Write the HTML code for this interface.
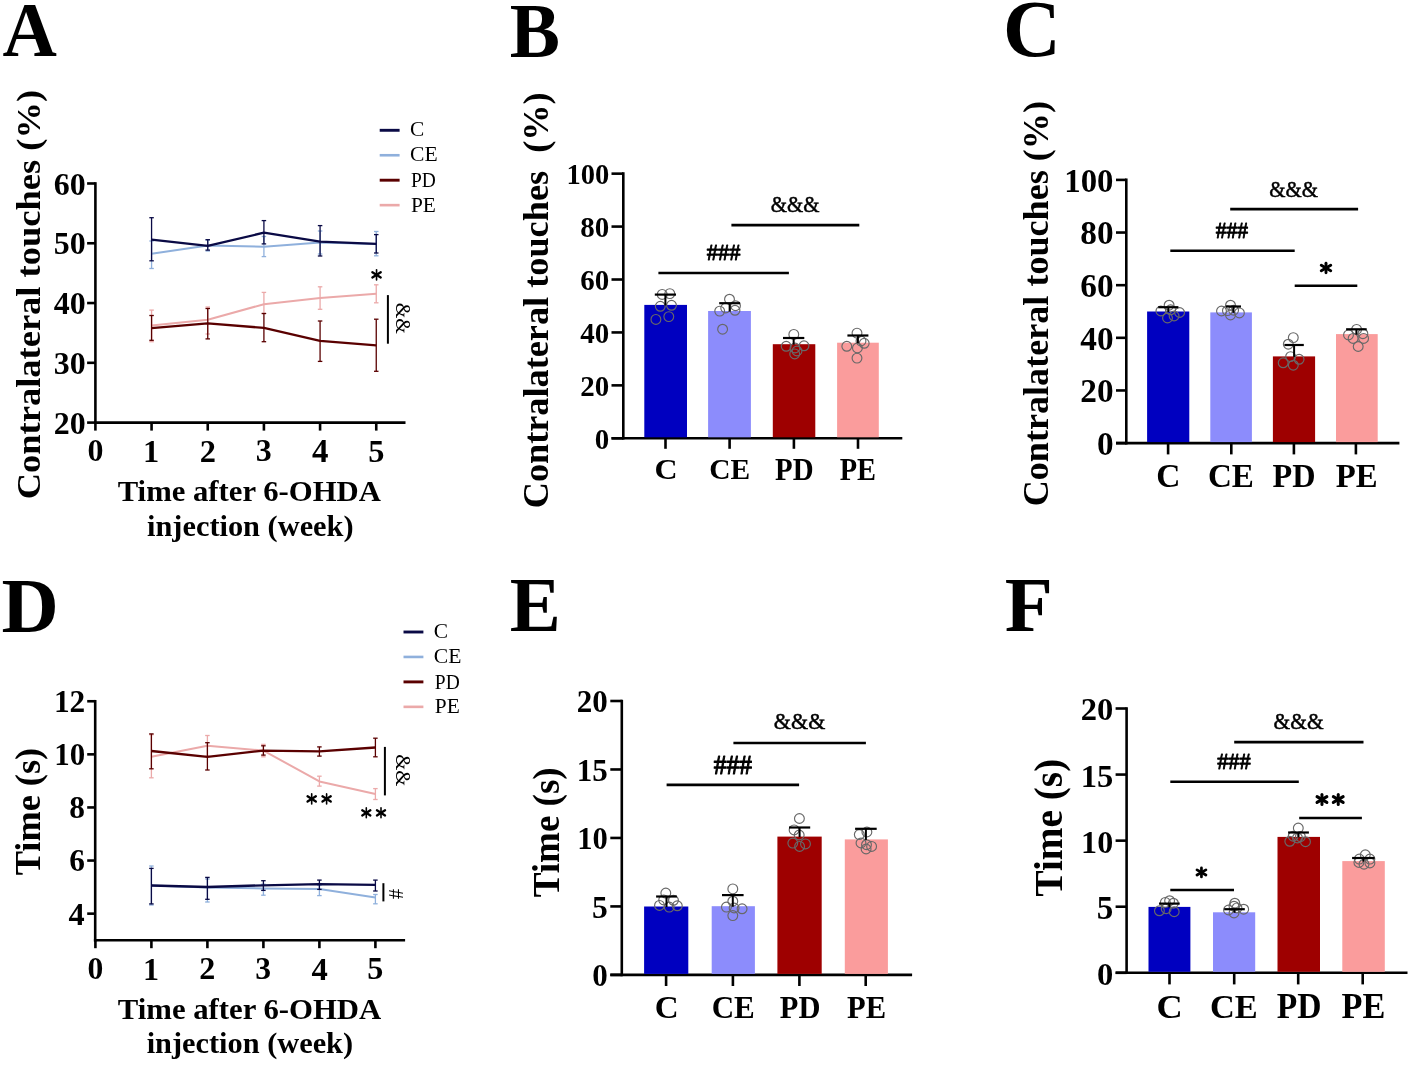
<!DOCTYPE html>
<html><head><meta charset="utf-8"><style>
html,body{margin:0;padding:0;background:#fff;width:1416px;height:1065px;overflow:hidden}
svg{display:block;will-change:transform}
text{font-family:"Liberation Serif",serif}
</style></head><body>
<svg width="1416" height="1065" viewBox="0 0 1416 1065">
<rect width="1416" height="1065" fill="#fff"/>
<line x1="95.40" y1="182.18" x2="95.40" y2="423.90" stroke="#000" stroke-width="2.6" stroke-linecap="butt"/>
<line x1="94.10" y1="422.60" x2="405.50" y2="422.60" stroke="#000" stroke-width="2.6" stroke-linecap="butt"/>
<line x1="87.10" y1="422.60" x2="95.40" y2="422.60" stroke="#000" stroke-width="2.6" stroke-linecap="butt"/>
<line x1="87.10" y1="362.82" x2="95.40" y2="362.82" stroke="#000" stroke-width="2.6" stroke-linecap="butt"/>
<line x1="87.10" y1="303.04" x2="95.40" y2="303.04" stroke="#000" stroke-width="2.6" stroke-linecap="butt"/>
<line x1="87.10" y1="243.26" x2="95.40" y2="243.26" stroke="#000" stroke-width="2.6" stroke-linecap="butt"/>
<line x1="87.10" y1="183.48" x2="95.40" y2="183.48" stroke="#000" stroke-width="2.6" stroke-linecap="butt"/>
<line x1="95.40" y1="422.60" x2="95.40" y2="430.60" stroke="#000" stroke-width="2.6" stroke-linecap="butt"/>
<line x1="151.57" y1="422.60" x2="151.57" y2="430.60" stroke="#000" stroke-width="2.6" stroke-linecap="butt"/>
<line x1="207.74" y1="422.60" x2="207.74" y2="430.60" stroke="#000" stroke-width="2.6" stroke-linecap="butt"/>
<line x1="263.91" y1="422.60" x2="263.91" y2="430.60" stroke="#000" stroke-width="2.6" stroke-linecap="butt"/>
<line x1="320.08" y1="422.60" x2="320.08" y2="430.60" stroke="#000" stroke-width="2.6" stroke-linecap="butt"/>
<line x1="376.25" y1="422.60" x2="376.25" y2="430.60" stroke="#000" stroke-width="2.6" stroke-linecap="butt"/>
<line x1="379.70" y1="130.30" x2="399.60" y2="130.30" stroke="#0a0a45" stroke-width="2.9" stroke-linecap="butt"/>
<line x1="379.70" y1="155.25" x2="399.60" y2="155.25" stroke="#8fb0dc" stroke-width="2.6" stroke-linecap="butt"/>
<line x1="379.70" y1="180.20" x2="399.60" y2="180.20" stroke="#5a0000" stroke-width="2.9" stroke-linecap="butt"/>
<line x1="379.70" y1="205.15" x2="399.60" y2="205.15" stroke="#eba9a9" stroke-width="2.6" stroke-linecap="butt"/>
<line x1="151.57" y1="241.00" x2="151.57" y2="268.50" stroke="#8fb0dc" stroke-width="1.3" stroke-linecap="butt"/>
<line x1="149.32" y1="241.00" x2="153.82" y2="241.00" stroke="#8fb0dc" stroke-width="1.3" stroke-linecap="butt"/>
<line x1="149.32" y1="268.50" x2="153.82" y2="268.50" stroke="#8fb0dc" stroke-width="1.3" stroke-linecap="butt"/>
<line x1="207.74" y1="240.00" x2="207.74" y2="251.00" stroke="#8fb0dc" stroke-width="1.3" stroke-linecap="butt"/>
<line x1="205.49" y1="240.00" x2="209.99" y2="240.00" stroke="#8fb0dc" stroke-width="1.3" stroke-linecap="butt"/>
<line x1="205.49" y1="251.00" x2="209.99" y2="251.00" stroke="#8fb0dc" stroke-width="1.3" stroke-linecap="butt"/>
<line x1="263.91" y1="236.50" x2="263.91" y2="256.60" stroke="#8fb0dc" stroke-width="1.3" stroke-linecap="butt"/>
<line x1="261.66" y1="236.50" x2="266.16" y2="236.50" stroke="#8fb0dc" stroke-width="1.3" stroke-linecap="butt"/>
<line x1="261.66" y1="256.60" x2="266.16" y2="256.60" stroke="#8fb0dc" stroke-width="1.3" stroke-linecap="butt"/>
<line x1="320.08" y1="231.00" x2="320.08" y2="254.00" stroke="#8fb0dc" stroke-width="1.3" stroke-linecap="butt"/>
<line x1="317.83" y1="231.00" x2="322.33" y2="231.00" stroke="#8fb0dc" stroke-width="1.3" stroke-linecap="butt"/>
<line x1="317.83" y1="254.00" x2="322.33" y2="254.00" stroke="#8fb0dc" stroke-width="1.3" stroke-linecap="butt"/>
<line x1="376.25" y1="231.50" x2="376.25" y2="255.80" stroke="#8fb0dc" stroke-width="1.3" stroke-linecap="butt"/>
<line x1="374.00" y1="231.50" x2="378.50" y2="231.50" stroke="#8fb0dc" stroke-width="1.3" stroke-linecap="butt"/>
<line x1="374.00" y1="255.80" x2="378.50" y2="255.80" stroke="#8fb0dc" stroke-width="1.3" stroke-linecap="butt"/>
<polyline points="151.57,253.80 207.74,245.40 263.91,246.80 320.08,242.50 376.25,243.90" fill="none" stroke="#8fb0dc" stroke-width="2.0" stroke-linejoin="round"/>
<line x1="151.57" y1="310.10" x2="151.57" y2="341.70" stroke="#eba9a9" stroke-width="1.3" stroke-linecap="butt"/>
<line x1="149.32" y1="310.10" x2="153.82" y2="310.10" stroke="#eba9a9" stroke-width="1.3" stroke-linecap="butt"/>
<line x1="149.32" y1="341.70" x2="153.82" y2="341.70" stroke="#eba9a9" stroke-width="1.3" stroke-linecap="butt"/>
<line x1="207.74" y1="307.00" x2="207.74" y2="334.00" stroke="#eba9a9" stroke-width="1.3" stroke-linecap="butt"/>
<line x1="205.49" y1="307.00" x2="209.99" y2="307.00" stroke="#eba9a9" stroke-width="1.3" stroke-linecap="butt"/>
<line x1="205.49" y1="334.00" x2="209.99" y2="334.00" stroke="#eba9a9" stroke-width="1.3" stroke-linecap="butt"/>
<line x1="263.91" y1="292.40" x2="263.91" y2="313.50" stroke="#eba9a9" stroke-width="1.3" stroke-linecap="butt"/>
<line x1="261.66" y1="292.40" x2="266.16" y2="292.40" stroke="#eba9a9" stroke-width="1.3" stroke-linecap="butt"/>
<line x1="261.66" y1="313.50" x2="266.16" y2="313.50" stroke="#eba9a9" stroke-width="1.3" stroke-linecap="butt"/>
<line x1="320.08" y1="286.80" x2="320.08" y2="309.30" stroke="#eba9a9" stroke-width="1.3" stroke-linecap="butt"/>
<line x1="317.83" y1="286.80" x2="322.33" y2="286.80" stroke="#eba9a9" stroke-width="1.3" stroke-linecap="butt"/>
<line x1="317.83" y1="309.30" x2="322.33" y2="309.30" stroke="#eba9a9" stroke-width="1.3" stroke-linecap="butt"/>
<line x1="376.25" y1="284.80" x2="376.25" y2="302.80" stroke="#eba9a9" stroke-width="1.3" stroke-linecap="butt"/>
<line x1="374.00" y1="284.80" x2="378.50" y2="284.80" stroke="#eba9a9" stroke-width="1.3" stroke-linecap="butt"/>
<line x1="374.00" y1="302.80" x2="378.50" y2="302.80" stroke="#eba9a9" stroke-width="1.3" stroke-linecap="butt"/>
<polyline points="151.57,325.60 207.74,319.70 263.91,304.20 320.08,298.00 376.25,293.80" fill="none" stroke="#eba9a9" stroke-width="2.0" stroke-linejoin="round"/>
<line x1="151.57" y1="217.70" x2="151.57" y2="260.80" stroke="#0a0a45" stroke-width="1.3" stroke-linecap="butt"/>
<line x1="149.32" y1="217.70" x2="153.82" y2="217.70" stroke="#0a0a45" stroke-width="1.3" stroke-linecap="butt"/>
<line x1="149.32" y1="260.80" x2="153.82" y2="260.80" stroke="#0a0a45" stroke-width="1.3" stroke-linecap="butt"/>
<line x1="207.74" y1="239.70" x2="207.74" y2="250.10" stroke="#0a0a45" stroke-width="1.3" stroke-linecap="butt"/>
<line x1="205.49" y1="239.70" x2="209.99" y2="239.70" stroke="#0a0a45" stroke-width="1.3" stroke-linecap="butt"/>
<line x1="205.49" y1="250.10" x2="209.99" y2="250.10" stroke="#0a0a45" stroke-width="1.3" stroke-linecap="butt"/>
<line x1="263.91" y1="220.60" x2="263.91" y2="243.90" stroke="#0a0a45" stroke-width="1.3" stroke-linecap="butt"/>
<line x1="261.66" y1="220.60" x2="266.16" y2="220.60" stroke="#0a0a45" stroke-width="1.3" stroke-linecap="butt"/>
<line x1="261.66" y1="243.90" x2="266.16" y2="243.90" stroke="#0a0a45" stroke-width="1.3" stroke-linecap="butt"/>
<line x1="320.08" y1="225.60" x2="320.08" y2="256.00" stroke="#0a0a45" stroke-width="1.3" stroke-linecap="butt"/>
<line x1="317.83" y1="225.60" x2="322.33" y2="225.60" stroke="#0a0a45" stroke-width="1.3" stroke-linecap="butt"/>
<line x1="317.83" y1="256.00" x2="322.33" y2="256.00" stroke="#0a0a45" stroke-width="1.3" stroke-linecap="butt"/>
<line x1="376.25" y1="234.60" x2="376.25" y2="253.00" stroke="#0a0a45" stroke-width="1.3" stroke-linecap="butt"/>
<line x1="374.00" y1="234.60" x2="378.50" y2="234.60" stroke="#0a0a45" stroke-width="1.3" stroke-linecap="butt"/>
<line x1="374.00" y1="253.00" x2="378.50" y2="253.00" stroke="#0a0a45" stroke-width="1.3" stroke-linecap="butt"/>
<polyline points="151.57,239.70 207.74,245.90 263.91,232.70 320.08,241.70 376.25,243.90" fill="none" stroke="#0a0a45" stroke-width="2.3" stroke-linejoin="round"/>
<line x1="151.57" y1="315.50" x2="151.57" y2="340.30" stroke="#5a0000" stroke-width="1.3" stroke-linecap="butt"/>
<line x1="149.32" y1="315.50" x2="153.82" y2="315.50" stroke="#5a0000" stroke-width="1.3" stroke-linecap="butt"/>
<line x1="149.32" y1="340.30" x2="153.82" y2="340.30" stroke="#5a0000" stroke-width="1.3" stroke-linecap="butt"/>
<line x1="207.74" y1="308.50" x2="207.74" y2="338.90" stroke="#5a0000" stroke-width="1.3" stroke-linecap="butt"/>
<line x1="205.49" y1="308.50" x2="209.99" y2="308.50" stroke="#5a0000" stroke-width="1.3" stroke-linecap="butt"/>
<line x1="205.49" y1="338.90" x2="209.99" y2="338.90" stroke="#5a0000" stroke-width="1.3" stroke-linecap="butt"/>
<line x1="263.91" y1="313.50" x2="263.91" y2="341.70" stroke="#5a0000" stroke-width="1.3" stroke-linecap="butt"/>
<line x1="261.66" y1="313.50" x2="266.16" y2="313.50" stroke="#5a0000" stroke-width="1.3" stroke-linecap="butt"/>
<line x1="261.66" y1="341.70" x2="266.16" y2="341.70" stroke="#5a0000" stroke-width="1.3" stroke-linecap="butt"/>
<line x1="320.08" y1="321.00" x2="320.08" y2="361.40" stroke="#5a0000" stroke-width="1.3" stroke-linecap="butt"/>
<line x1="317.83" y1="321.00" x2="322.33" y2="321.00" stroke="#5a0000" stroke-width="1.3" stroke-linecap="butt"/>
<line x1="317.83" y1="361.40" x2="322.33" y2="361.40" stroke="#5a0000" stroke-width="1.3" stroke-linecap="butt"/>
<line x1="376.25" y1="319.20" x2="376.25" y2="371.30" stroke="#5a0000" stroke-width="1.3" stroke-linecap="butt"/>
<line x1="374.00" y1="319.20" x2="378.50" y2="319.20" stroke="#5a0000" stroke-width="1.3" stroke-linecap="butt"/>
<line x1="374.00" y1="371.30" x2="378.50" y2="371.30" stroke="#5a0000" stroke-width="1.3" stroke-linecap="butt"/>
<polyline points="151.57,328.20 207.74,323.40 263.91,327.90 320.08,340.80 376.25,345.40" fill="none" stroke="#5a0000" stroke-width="2.3" stroke-linejoin="round"/>
<line x1="376.55" y1="269.71" x2="376.55" y2="279.89" stroke="#000" stroke-width="1.6275862068965534" stroke-linecap="round"/>
<line x1="372.38" y1="272.16" x2="380.72" y2="277.44" stroke="#000" stroke-width="2.3396551724137953" stroke-linecap="round"/>
<line x1="372.38" y1="277.44" x2="380.72" y2="272.16" stroke="#000" stroke-width="2.3396551724137953" stroke-linecap="round"/>
<line x1="387.90" y1="295.10" x2="387.90" y2="343.70" stroke="#000" stroke-width="2.0" stroke-linecap="butt"/>
<line x1="95.20" y1="699.95" x2="95.20" y2="941.50" stroke="#000" stroke-width="2.6" stroke-linecap="butt"/>
<line x1="93.90" y1="940.20" x2="405.10" y2="940.20" stroke="#000" stroke-width="2.6" stroke-linecap="butt"/>
<line x1="87.20" y1="913.65" x2="95.20" y2="913.65" stroke="#000" stroke-width="2.6" stroke-linecap="butt"/>
<line x1="87.20" y1="860.55" x2="95.20" y2="860.55" stroke="#000" stroke-width="2.6" stroke-linecap="butt"/>
<line x1="87.20" y1="807.45" x2="95.20" y2="807.45" stroke="#000" stroke-width="2.6" stroke-linecap="butt"/>
<line x1="87.20" y1="754.35" x2="95.20" y2="754.35" stroke="#000" stroke-width="2.6" stroke-linecap="butt"/>
<line x1="87.20" y1="701.25" x2="95.20" y2="701.25" stroke="#000" stroke-width="2.6" stroke-linecap="butt"/>
<line x1="95.40" y1="940.20" x2="95.40" y2="948.20" stroke="#000" stroke-width="2.6" stroke-linecap="butt"/>
<line x1="151.40" y1="940.20" x2="151.40" y2="948.20" stroke="#000" stroke-width="2.6" stroke-linecap="butt"/>
<line x1="207.40" y1="940.20" x2="207.40" y2="948.20" stroke="#000" stroke-width="2.6" stroke-linecap="butt"/>
<line x1="263.40" y1="940.20" x2="263.40" y2="948.20" stroke="#000" stroke-width="2.6" stroke-linecap="butt"/>
<line x1="319.40" y1="940.20" x2="319.40" y2="948.20" stroke="#000" stroke-width="2.6" stroke-linecap="butt"/>
<line x1="375.40" y1="940.20" x2="375.40" y2="948.20" stroke="#000" stroke-width="2.6" stroke-linecap="butt"/>
<line x1="403.50" y1="632.00" x2="423.40" y2="632.00" stroke="#0a0a45" stroke-width="2.9" stroke-linecap="butt"/>
<line x1="403.50" y1="656.95" x2="423.40" y2="656.95" stroke="#8fb0dc" stroke-width="2.6" stroke-linecap="butt"/>
<line x1="403.50" y1="681.90" x2="423.40" y2="681.90" stroke="#5a0000" stroke-width="2.9" stroke-linecap="butt"/>
<line x1="403.50" y1="706.85" x2="423.40" y2="706.85" stroke="#eba9a9" stroke-width="2.6" stroke-linecap="butt"/>
<line x1="151.40" y1="734.70" x2="151.40" y2="777.80" stroke="#eba9a9" stroke-width="1.3" stroke-linecap="butt"/>
<line x1="149.15" y1="734.70" x2="153.65" y2="734.70" stroke="#eba9a9" stroke-width="1.3" stroke-linecap="butt"/>
<line x1="149.15" y1="777.80" x2="153.65" y2="777.80" stroke="#eba9a9" stroke-width="1.3" stroke-linecap="butt"/>
<line x1="207.40" y1="735.50" x2="207.40" y2="756.10" stroke="#eba9a9" stroke-width="1.3" stroke-linecap="butt"/>
<line x1="205.15" y1="735.50" x2="209.65" y2="735.50" stroke="#eba9a9" stroke-width="1.3" stroke-linecap="butt"/>
<line x1="205.15" y1="756.10" x2="209.65" y2="756.10" stroke="#eba9a9" stroke-width="1.3" stroke-linecap="butt"/>
<line x1="263.40" y1="744.40" x2="263.40" y2="756.80" stroke="#eba9a9" stroke-width="1.3" stroke-linecap="butt"/>
<line x1="261.15" y1="744.40" x2="265.65" y2="744.40" stroke="#eba9a9" stroke-width="1.3" stroke-linecap="butt"/>
<line x1="261.15" y1="756.80" x2="265.65" y2="756.80" stroke="#eba9a9" stroke-width="1.3" stroke-linecap="butt"/>
<line x1="319.40" y1="776.20" x2="319.40" y2="786.10" stroke="#eba9a9" stroke-width="1.3" stroke-linecap="butt"/>
<line x1="317.15" y1="776.20" x2="321.65" y2="776.20" stroke="#eba9a9" stroke-width="1.3" stroke-linecap="butt"/>
<line x1="317.15" y1="786.10" x2="321.65" y2="786.10" stroke="#eba9a9" stroke-width="1.3" stroke-linecap="butt"/>
<line x1="375.40" y1="788.60" x2="375.40" y2="799.50" stroke="#eba9a9" stroke-width="1.3" stroke-linecap="butt"/>
<line x1="373.15" y1="788.60" x2="377.65" y2="788.60" stroke="#eba9a9" stroke-width="1.3" stroke-linecap="butt"/>
<line x1="373.15" y1="799.50" x2="377.65" y2="799.50" stroke="#eba9a9" stroke-width="1.3" stroke-linecap="butt"/>
<polyline points="151.40,756.70 207.40,745.80 263.40,750.60 319.40,781.40 375.40,794.00" fill="none" stroke="#eba9a9" stroke-width="2.0" stroke-linejoin="round"/>
<line x1="151.40" y1="866.00" x2="151.40" y2="905.00" stroke="#8fb0dc" stroke-width="1.3" stroke-linecap="butt"/>
<line x1="149.15" y1="866.00" x2="153.65" y2="866.00" stroke="#8fb0dc" stroke-width="1.3" stroke-linecap="butt"/>
<line x1="149.15" y1="905.00" x2="153.65" y2="905.00" stroke="#8fb0dc" stroke-width="1.3" stroke-linecap="butt"/>
<line x1="207.40" y1="879.00" x2="207.40" y2="902.00" stroke="#8fb0dc" stroke-width="1.3" stroke-linecap="butt"/>
<line x1="205.15" y1="879.00" x2="209.65" y2="879.00" stroke="#8fb0dc" stroke-width="1.3" stroke-linecap="butt"/>
<line x1="205.15" y1="902.00" x2="209.65" y2="902.00" stroke="#8fb0dc" stroke-width="1.3" stroke-linecap="butt"/>
<line x1="263.40" y1="884.20" x2="263.40" y2="895.20" stroke="#8fb0dc" stroke-width="1.3" stroke-linecap="butt"/>
<line x1="261.15" y1="884.20" x2="265.65" y2="884.20" stroke="#8fb0dc" stroke-width="1.3" stroke-linecap="butt"/>
<line x1="261.15" y1="895.20" x2="265.65" y2="895.20" stroke="#8fb0dc" stroke-width="1.3" stroke-linecap="butt"/>
<line x1="319.40" y1="885.30" x2="319.40" y2="895.60" stroke="#8fb0dc" stroke-width="1.3" stroke-linecap="butt"/>
<line x1="317.15" y1="885.30" x2="321.65" y2="885.30" stroke="#8fb0dc" stroke-width="1.3" stroke-linecap="butt"/>
<line x1="317.15" y1="895.60" x2="321.65" y2="895.60" stroke="#8fb0dc" stroke-width="1.3" stroke-linecap="butt"/>
<line x1="375.40" y1="894.50" x2="375.40" y2="903.80" stroke="#8fb0dc" stroke-width="1.3" stroke-linecap="butt"/>
<line x1="373.15" y1="894.50" x2="377.65" y2="894.50" stroke="#8fb0dc" stroke-width="1.3" stroke-linecap="butt"/>
<line x1="373.15" y1="903.80" x2="377.65" y2="903.80" stroke="#8fb0dc" stroke-width="1.3" stroke-linecap="butt"/>
<polyline points="151.40,885.50 207.40,887.50 263.40,888.40 319.40,889.00 375.40,897.60" fill="none" stroke="#8fb0dc" stroke-width="2.0" stroke-linejoin="round"/>
<line x1="151.40" y1="733.90" x2="151.40" y2="768.80" stroke="#5a0000" stroke-width="1.3" stroke-linecap="butt"/>
<line x1="149.15" y1="733.90" x2="153.65" y2="733.90" stroke="#5a0000" stroke-width="1.3" stroke-linecap="butt"/>
<line x1="149.15" y1="768.80" x2="153.65" y2="768.80" stroke="#5a0000" stroke-width="1.3" stroke-linecap="butt"/>
<line x1="207.40" y1="742.70" x2="207.40" y2="770.00" stroke="#5a0000" stroke-width="1.3" stroke-linecap="butt"/>
<line x1="205.15" y1="742.70" x2="209.65" y2="742.70" stroke="#5a0000" stroke-width="1.3" stroke-linecap="butt"/>
<line x1="205.15" y1="770.00" x2="209.65" y2="770.00" stroke="#5a0000" stroke-width="1.3" stroke-linecap="butt"/>
<line x1="263.40" y1="745.80" x2="263.40" y2="755.10" stroke="#5a0000" stroke-width="1.3" stroke-linecap="butt"/>
<line x1="261.15" y1="745.80" x2="265.65" y2="745.80" stroke="#5a0000" stroke-width="1.3" stroke-linecap="butt"/>
<line x1="261.15" y1="755.10" x2="265.65" y2="755.10" stroke="#5a0000" stroke-width="1.3" stroke-linecap="butt"/>
<line x1="319.40" y1="746.90" x2="319.40" y2="756.10" stroke="#5a0000" stroke-width="1.3" stroke-linecap="butt"/>
<line x1="317.15" y1="746.90" x2="321.65" y2="746.90" stroke="#5a0000" stroke-width="1.3" stroke-linecap="butt"/>
<line x1="317.15" y1="756.10" x2="321.65" y2="756.10" stroke="#5a0000" stroke-width="1.3" stroke-linecap="butt"/>
<line x1="375.40" y1="738.20" x2="375.40" y2="756.80" stroke="#5a0000" stroke-width="1.3" stroke-linecap="butt"/>
<line x1="373.15" y1="738.20" x2="377.65" y2="738.20" stroke="#5a0000" stroke-width="1.3" stroke-linecap="butt"/>
<line x1="373.15" y1="756.80" x2="377.65" y2="756.80" stroke="#5a0000" stroke-width="1.3" stroke-linecap="butt"/>
<polyline points="151.40,751.00 207.40,756.80 263.40,750.60 319.40,751.40 375.40,747.50" fill="none" stroke="#5a0000" stroke-width="2.3" stroke-linejoin="round"/>
<line x1="151.40" y1="868.40" x2="151.40" y2="903.90" stroke="#0a0a45" stroke-width="1.3" stroke-linecap="butt"/>
<line x1="149.15" y1="868.40" x2="153.65" y2="868.40" stroke="#0a0a45" stroke-width="1.3" stroke-linecap="butt"/>
<line x1="149.15" y1="903.90" x2="153.65" y2="903.90" stroke="#0a0a45" stroke-width="1.3" stroke-linecap="butt"/>
<line x1="207.40" y1="877.40" x2="207.40" y2="899.30" stroke="#0a0a45" stroke-width="1.3" stroke-linecap="butt"/>
<line x1="205.15" y1="877.40" x2="209.65" y2="877.40" stroke="#0a0a45" stroke-width="1.3" stroke-linecap="butt"/>
<line x1="205.15" y1="899.30" x2="209.65" y2="899.30" stroke="#0a0a45" stroke-width="1.3" stroke-linecap="butt"/>
<line x1="263.40" y1="880.70" x2="263.40" y2="890.40" stroke="#0a0a45" stroke-width="1.3" stroke-linecap="butt"/>
<line x1="261.15" y1="880.70" x2="265.65" y2="880.70" stroke="#0a0a45" stroke-width="1.3" stroke-linecap="butt"/>
<line x1="261.15" y1="890.40" x2="265.65" y2="890.40" stroke="#0a0a45" stroke-width="1.3" stroke-linecap="butt"/>
<line x1="319.40" y1="880.10" x2="319.40" y2="889.40" stroke="#0a0a45" stroke-width="1.3" stroke-linecap="butt"/>
<line x1="317.15" y1="880.10" x2="321.65" y2="880.10" stroke="#0a0a45" stroke-width="1.3" stroke-linecap="butt"/>
<line x1="317.15" y1="889.40" x2="321.65" y2="889.40" stroke="#0a0a45" stroke-width="1.3" stroke-linecap="butt"/>
<line x1="375.40" y1="880.10" x2="375.40" y2="891.00" stroke="#0a0a45" stroke-width="1.3" stroke-linecap="butt"/>
<line x1="373.15" y1="880.10" x2="377.65" y2="880.10" stroke="#0a0a45" stroke-width="1.3" stroke-linecap="butt"/>
<line x1="373.15" y1="891.00" x2="377.65" y2="891.00" stroke="#0a0a45" stroke-width="1.3" stroke-linecap="butt"/>
<polyline points="151.40,885.50 207.40,887.00 263.40,885.30 319.40,884.20 375.40,884.80" fill="none" stroke="#0a0a45" stroke-width="2.3" stroke-linejoin="round"/>
<line x1="311.69" y1="793.91" x2="311.69" y2="803.99" stroke="#000" stroke-width="1.6137931034482667" stroke-linecap="round"/>
<line x1="307.56" y1="796.33" x2="315.83" y2="801.57" stroke="#000" stroke-width="2.319827586206883" stroke-linecap="round"/>
<line x1="307.56" y1="801.57" x2="315.83" y2="796.33" stroke="#000" stroke-width="2.319827586206883" stroke-linecap="round"/>
<line x1="326.61" y1="793.91" x2="326.61" y2="803.99" stroke="#000" stroke-width="1.6137931034482667" stroke-linecap="round"/>
<line x1="322.47" y1="796.33" x2="330.74" y2="801.57" stroke="#000" stroke-width="2.319827586206883" stroke-linecap="round"/>
<line x1="322.47" y1="801.57" x2="330.74" y2="796.33" stroke="#000" stroke-width="2.319827586206883" stroke-linecap="round"/>
<line x1="366.30" y1="807.89" x2="366.30" y2="817.81" stroke="#000" stroke-width="1.5862068965517242" stroke-linecap="round"/>
<line x1="362.24" y1="810.27" x2="370.37" y2="815.43" stroke="#000" stroke-width="2.280172413793103" stroke-linecap="round"/>
<line x1="362.24" y1="815.43" x2="370.37" y2="810.27" stroke="#000" stroke-width="2.280172413793103" stroke-linecap="round"/>
<line x1="381.00" y1="807.89" x2="381.00" y2="817.81" stroke="#000" stroke-width="1.5862068965517242" stroke-linecap="round"/>
<line x1="376.93" y1="810.27" x2="385.06" y2="815.43" stroke="#000" stroke-width="2.280172413793103" stroke-linecap="round"/>
<line x1="376.93" y1="815.43" x2="385.06" y2="810.27" stroke="#000" stroke-width="2.280172413793103" stroke-linecap="round"/>
<line x1="384.90" y1="746.90" x2="384.90" y2="795.40" stroke="#000" stroke-width="2.0" stroke-linecap="butt"/>
<line x1="383.40" y1="883.20" x2="383.40" y2="901.40" stroke="#000" stroke-width="2.0" stroke-linecap="butt"/>
<line x1="623.30" y1="172.35" x2="623.30" y2="439.60" stroke="#000" stroke-width="2.6" stroke-linecap="butt"/>
<line x1="611.50" y1="438.30" x2="902.30" y2="438.30" stroke="#000" stroke-width="2.6" stroke-linecap="butt"/>
<line x1="611.50" y1="438.30" x2="623.30" y2="438.30" stroke="#000" stroke-width="2.6" stroke-linecap="butt"/>
<line x1="611.50" y1="385.37" x2="623.30" y2="385.37" stroke="#000" stroke-width="2.6" stroke-linecap="butt"/>
<line x1="611.50" y1="332.44" x2="623.30" y2="332.44" stroke="#000" stroke-width="2.6" stroke-linecap="butt"/>
<line x1="611.50" y1="279.51" x2="623.30" y2="279.51" stroke="#000" stroke-width="2.6" stroke-linecap="butt"/>
<line x1="611.50" y1="226.58" x2="623.30" y2="226.58" stroke="#000" stroke-width="2.6" stroke-linecap="butt"/>
<line x1="611.50" y1="173.65" x2="623.30" y2="173.65" stroke="#000" stroke-width="2.6" stroke-linecap="butt"/>
<line x1="665.50" y1="438.30" x2="665.50" y2="448.80" stroke="#000" stroke-width="2.6" stroke-linecap="butt"/>
<rect x="644.30" y="304.90" width="42.70" height="132.40" fill="#0000c0"/>
<line x1="729.60" y1="438.30" x2="729.60" y2="448.80" stroke="#000" stroke-width="2.6" stroke-linecap="butt"/>
<rect x="708.10" y="311.00" width="42.80" height="126.30" fill="#8c8cfc"/>
<line x1="793.90" y1="438.30" x2="793.90" y2="448.80" stroke="#000" stroke-width="2.6" stroke-linecap="butt"/>
<rect x="772.80" y="344.20" width="42.50" height="93.10" fill="#9e0000"/>
<line x1="858.00" y1="438.30" x2="858.00" y2="448.80" stroke="#000" stroke-width="2.6" stroke-linecap="butt"/>
<rect x="837.10" y="342.70" width="41.70" height="94.60" fill="#fa9c9c"/>
<circle cx="662.20" cy="294.40" r="4.9" fill="none" stroke="#686868" stroke-width="1.15"/>
<circle cx="669.80" cy="293.60" r="4.9" fill="none" stroke="#686868" stroke-width="1.15"/>
<circle cx="660.30" cy="306.30" r="4.9" fill="none" stroke="#686868" stroke-width="1.15"/>
<circle cx="671.50" cy="305.30" r="4.9" fill="none" stroke="#686868" stroke-width="1.15"/>
<circle cx="655.90" cy="319.40" r="4.9" fill="none" stroke="#686868" stroke-width="1.15"/>
<circle cx="668.80" cy="316.60" r="4.9" fill="none" stroke="#686868" stroke-width="1.15"/>
<line x1="665.40" y1="294.60" x2="665.40" y2="305.40" stroke="#000" stroke-width="2.0" stroke-linecap="butt"/>
<line x1="654.80" y1="294.60" x2="676.00" y2="294.60" stroke="#000" stroke-width="2.2" stroke-linecap="butt"/>
<circle cx="729.50" cy="299.20" r="4.9" fill="none" stroke="#686868" stroke-width="1.15"/>
<circle cx="719.70" cy="311.10" r="4.9" fill="none" stroke="#686868" stroke-width="1.15"/>
<circle cx="735.00" cy="310.30" r="4.9" fill="none" stroke="#686868" stroke-width="1.15"/>
<circle cx="722.60" cy="329.20" r="4.9" fill="none" stroke="#686868" stroke-width="1.15"/>
<circle cx="725.70" cy="308.00" r="4.9" fill="none" stroke="#686868" stroke-width="1.15"/>
<circle cx="735.50" cy="305.70" r="4.9" fill="none" stroke="#686868" stroke-width="1.15"/>
<line x1="729.65" y1="303.20" x2="729.65" y2="311.50" stroke="#000" stroke-width="2.0" stroke-linecap="butt"/>
<line x1="719.20" y1="303.20" x2="740.10" y2="303.20" stroke="#000" stroke-width="2.2" stroke-linecap="butt"/>
<circle cx="793.80" cy="334.40" r="4.9" fill="none" stroke="#686868" stroke-width="1.15"/>
<circle cx="786.20" cy="346.30" r="4.9" fill="none" stroke="#686868" stroke-width="1.15"/>
<circle cx="804.00" cy="345.80" r="4.9" fill="none" stroke="#686868" stroke-width="1.15"/>
<circle cx="794.70" cy="353.90" r="4.9" fill="none" stroke="#686868" stroke-width="1.15"/>
<circle cx="797.00" cy="351.00" r="4.9" fill="none" stroke="#686868" stroke-width="1.15"/>
<circle cx="795.00" cy="348.00" r="4.9" fill="none" stroke="#686868" stroke-width="1.15"/>
<line x1="793.65" y1="338.00" x2="793.65" y2="344.70" stroke="#000" stroke-width="2.0" stroke-linecap="butt"/>
<line x1="783.00" y1="338.00" x2="804.30" y2="338.00" stroke="#000" stroke-width="2.2" stroke-linecap="butt"/>
<circle cx="857.00" cy="333.10" r="4.9" fill="none" stroke="#686868" stroke-width="1.15"/>
<circle cx="846.80" cy="346.30" r="4.9" fill="none" stroke="#686868" stroke-width="1.15"/>
<circle cx="864.20" cy="343.30" r="4.9" fill="none" stroke="#686868" stroke-width="1.15"/>
<circle cx="857.40" cy="348.00" r="4.9" fill="none" stroke="#686868" stroke-width="1.15"/>
<circle cx="857.00" cy="358.10" r="4.9" fill="none" stroke="#686868" stroke-width="1.15"/>
<circle cx="861.00" cy="341.00" r="4.9" fill="none" stroke="#686868" stroke-width="1.15"/>
<line x1="857.90" y1="335.50" x2="857.90" y2="343.20" stroke="#000" stroke-width="2.0" stroke-linecap="butt"/>
<line x1="847.40" y1="335.50" x2="868.40" y2="335.50" stroke="#000" stroke-width="2.2" stroke-linecap="butt"/>
<line x1="658.40" y1="273.00" x2="788.90" y2="273.00" stroke="#000" stroke-width="2.6" stroke-linecap="butt"/>
<line x1="731.40" y1="225.10" x2="859.30" y2="225.10" stroke="#000" stroke-width="2.6" stroke-linecap="butt"/>
<line x1="1126.30" y1="178.60" x2="1126.30" y2="444.40" stroke="#000" stroke-width="2.6" stroke-linecap="butt"/>
<line x1="1116.00" y1="443.10" x2="1399.40" y2="443.10" stroke="#000" stroke-width="2.6" stroke-linecap="butt"/>
<line x1="1116.00" y1="443.10" x2="1126.30" y2="443.10" stroke="#000" stroke-width="2.6" stroke-linecap="butt"/>
<line x1="1116.00" y1="390.46" x2="1126.30" y2="390.46" stroke="#000" stroke-width="2.6" stroke-linecap="butt"/>
<line x1="1116.00" y1="337.82" x2="1126.30" y2="337.82" stroke="#000" stroke-width="2.6" stroke-linecap="butt"/>
<line x1="1116.00" y1="285.18" x2="1126.30" y2="285.18" stroke="#000" stroke-width="2.6" stroke-linecap="butt"/>
<line x1="1116.00" y1="232.54" x2="1126.30" y2="232.54" stroke="#000" stroke-width="2.6" stroke-linecap="butt"/>
<line x1="1116.00" y1="179.90" x2="1126.30" y2="179.90" stroke="#000" stroke-width="2.6" stroke-linecap="butt"/>
<line x1="1168.10" y1="443.10" x2="1168.10" y2="454.40" stroke="#000" stroke-width="2.6" stroke-linecap="butt"/>
<rect x="1147.10" y="311.50" width="42.20" height="130.60" fill="#0000c0"/>
<line x1="1231.30" y1="443.10" x2="1231.30" y2="454.40" stroke="#000" stroke-width="2.6" stroke-linecap="butt"/>
<rect x="1210.30" y="312.40" width="41.60" height="129.70" fill="#8c8cfc"/>
<line x1="1293.90" y1="443.10" x2="1293.90" y2="454.40" stroke="#000" stroke-width="2.6" stroke-linecap="butt"/>
<rect x="1272.90" y="356.40" width="42.20" height="85.70" fill="#9e0000"/>
<line x1="1355.90" y1="443.10" x2="1355.90" y2="454.40" stroke="#000" stroke-width="2.6" stroke-linecap="butt"/>
<rect x="1336.00" y="334.10" width="41.70" height="108.00" fill="#fa9c9c"/>
<circle cx="1169.10" cy="305.20" r="4.9" fill="none" stroke="#686868" stroke-width="1.15"/>
<circle cx="1160.90" cy="311.00" r="4.9" fill="none" stroke="#686868" stroke-width="1.15"/>
<circle cx="1167.50" cy="318.00" r="4.9" fill="none" stroke="#686868" stroke-width="1.15"/>
<circle cx="1174.10" cy="316.00" r="4.9" fill="none" stroke="#686868" stroke-width="1.15"/>
<circle cx="1179.60" cy="312.50" r="4.9" fill="none" stroke="#686868" stroke-width="1.15"/>
<circle cx="1170.60" cy="309.80" r="4.9" fill="none" stroke="#686868" stroke-width="1.15"/>
<line x1="1168.30" y1="307.20" x2="1168.30" y2="312.00" stroke="#000" stroke-width="2.0" stroke-linecap="butt"/>
<line x1="1158.20" y1="307.20" x2="1178.40" y2="307.20" stroke="#000" stroke-width="2.2" stroke-linecap="butt"/>
<circle cx="1230.50" cy="305.20" r="4.9" fill="none" stroke="#686868" stroke-width="1.15"/>
<circle cx="1221.50" cy="311.00" r="4.9" fill="none" stroke="#686868" stroke-width="1.15"/>
<circle cx="1227.40" cy="310.60" r="4.9" fill="none" stroke="#686868" stroke-width="1.15"/>
<circle cx="1230.50" cy="314.90" r="4.9" fill="none" stroke="#686868" stroke-width="1.15"/>
<circle cx="1239.40" cy="312.90" r="4.9" fill="none" stroke="#686868" stroke-width="1.15"/>
<circle cx="1233.60" cy="310.20" r="4.9" fill="none" stroke="#686868" stroke-width="1.15"/>
<line x1="1233.40" y1="306.50" x2="1233.40" y2="312.90" stroke="#000" stroke-width="2.0" stroke-linecap="butt"/>
<line x1="1225.80" y1="306.50" x2="1241.00" y2="306.50" stroke="#000" stroke-width="2.2" stroke-linecap="butt"/>
<circle cx="1293.30" cy="337.60" r="4.9" fill="none" stroke="#686868" stroke-width="1.15"/>
<circle cx="1288.30" cy="344.20" r="4.9" fill="none" stroke="#686868" stroke-width="1.15"/>
<circle cx="1290.60" cy="356.60" r="4.9" fill="none" stroke="#686868" stroke-width="1.15"/>
<circle cx="1283.20" cy="362.80" r="4.9" fill="none" stroke="#686868" stroke-width="1.15"/>
<circle cx="1293.30" cy="365.20" r="4.9" fill="none" stroke="#686868" stroke-width="1.15"/>
<circle cx="1299.10" cy="359.30" r="4.9" fill="none" stroke="#686868" stroke-width="1.15"/>
<line x1="1294.10" y1="345.00" x2="1294.10" y2="356.90" stroke="#000" stroke-width="2.0" stroke-linecap="butt"/>
<line x1="1284.40" y1="345.00" x2="1303.80" y2="345.00" stroke="#000" stroke-width="2.2" stroke-linecap="butt"/>
<circle cx="1356.60" cy="329.40" r="4.9" fill="none" stroke="#686868" stroke-width="1.15"/>
<circle cx="1348.50" cy="334.90" r="4.9" fill="none" stroke="#686868" stroke-width="1.15"/>
<circle cx="1353.10" cy="338.40" r="4.9" fill="none" stroke="#686868" stroke-width="1.15"/>
<circle cx="1362.90" cy="333.70" r="4.9" fill="none" stroke="#686868" stroke-width="1.15"/>
<circle cx="1363.60" cy="338.40" r="4.9" fill="none" stroke="#686868" stroke-width="1.15"/>
<circle cx="1358.20" cy="346.50" r="4.9" fill="none" stroke="#686868" stroke-width="1.15"/>
<line x1="1356.40" y1="329.30" x2="1356.40" y2="334.60" stroke="#000" stroke-width="2.0" stroke-linecap="butt"/>
<line x1="1346.10" y1="329.30" x2="1366.70" y2="329.30" stroke="#000" stroke-width="2.2" stroke-linecap="butt"/>
<line x1="1230.20" y1="209.10" x2="1358.10" y2="209.10" stroke="#000" stroke-width="2.6" stroke-linecap="butt"/>
<line x1="1170.30" y1="250.80" x2="1294.70" y2="250.80" stroke="#000" stroke-width="2.6" stroke-linecap="butt"/>
<line x1="1294.70" y1="285.70" x2="1357.30" y2="285.70" stroke="#000" stroke-width="2.6" stroke-linecap="butt"/>
<line x1="1326.00" y1="263.19" x2="1326.00" y2="272.81" stroke="#000" stroke-width="2.886206896551719" stroke-linecap="round"/>
<line x1="1321.30" y1="265.27" x2="1330.70" y2="270.73" stroke="#000" stroke-width="2.9931034482758565" stroke-linecap="round"/>
<line x1="1321.30" y1="270.73" x2="1330.70" y2="265.27" stroke="#000" stroke-width="2.9931034482758565" stroke-linecap="round"/>
<line x1="621.80" y1="699.70" x2="621.80" y2="976.20" stroke="#000" stroke-width="2.6" stroke-linecap="butt"/>
<line x1="610.30" y1="974.90" x2="912.10" y2="974.90" stroke="#000" stroke-width="2.6" stroke-linecap="butt"/>
<line x1="610.30" y1="974.90" x2="621.80" y2="974.90" stroke="#000" stroke-width="2.6" stroke-linecap="butt"/>
<line x1="610.30" y1="906.42" x2="621.80" y2="906.42" stroke="#000" stroke-width="2.6" stroke-linecap="butt"/>
<line x1="610.30" y1="837.95" x2="621.80" y2="837.95" stroke="#000" stroke-width="2.6" stroke-linecap="butt"/>
<line x1="610.30" y1="769.47" x2="621.80" y2="769.47" stroke="#000" stroke-width="2.6" stroke-linecap="butt"/>
<line x1="610.30" y1="701.00" x2="621.80" y2="701.00" stroke="#000" stroke-width="2.6" stroke-linecap="butt"/>
<line x1="666.10" y1="974.90" x2="666.10" y2="986.00" stroke="#000" stroke-width="2.6" stroke-linecap="butt"/>
<rect x="644.10" y="906.50" width="44.20" height="67.40" fill="#0000c0"/>
<line x1="732.90" y1="974.90" x2="732.90" y2="986.00" stroke="#000" stroke-width="2.6" stroke-linecap="butt"/>
<rect x="711.70" y="906.20" width="43.20" height="67.70" fill="#8c8cfc"/>
<line x1="799.40" y1="974.90" x2="799.40" y2="986.00" stroke="#000" stroke-width="2.6" stroke-linecap="butt"/>
<rect x="777.40" y="836.60" width="44.30" height="137.30" fill="#9e0000"/>
<line x1="865.70" y1="974.90" x2="865.70" y2="986.00" stroke="#000" stroke-width="2.6" stroke-linecap="butt"/>
<rect x="844.80" y="839.40" width="43.10" height="134.50" fill="#fa9c9c"/>
<circle cx="665.80" cy="893.10" r="4.9" fill="none" stroke="#686868" stroke-width="1.15"/>
<circle cx="659.50" cy="905.40" r="4.9" fill="none" stroke="#686868" stroke-width="1.15"/>
<circle cx="669.20" cy="907.10" r="4.9" fill="none" stroke="#686868" stroke-width="1.15"/>
<circle cx="677.30" cy="905.80" r="4.9" fill="none" stroke="#686868" stroke-width="1.15"/>
<circle cx="663.70" cy="899.90" r="4.9" fill="none" stroke="#686868" stroke-width="1.15"/>
<circle cx="673.50" cy="900.30" r="4.9" fill="none" stroke="#686868" stroke-width="1.15"/>
<line x1="666.50" y1="896.50" x2="666.50" y2="907.00" stroke="#000" stroke-width="2.0" stroke-linecap="butt"/>
<line x1="656.10" y1="896.50" x2="676.90" y2="896.50" stroke="#000" stroke-width="2.2" stroke-linecap="butt"/>
<circle cx="732.80" cy="888.90" r="4.9" fill="none" stroke="#686868" stroke-width="1.15"/>
<circle cx="726.40" cy="907.10" r="4.9" fill="none" stroke="#686868" stroke-width="1.15"/>
<circle cx="732.80" cy="901.20" r="4.9" fill="none" stroke="#686868" stroke-width="1.15"/>
<circle cx="742.10" cy="908.80" r="4.9" fill="none" stroke="#686868" stroke-width="1.15"/>
<circle cx="732.80" cy="915.60" r="4.9" fill="none" stroke="#686868" stroke-width="1.15"/>
<circle cx="734.10" cy="908.00" r="4.9" fill="none" stroke="#686868" stroke-width="1.15"/>
<line x1="732.80" y1="895.10" x2="732.80" y2="906.70" stroke="#000" stroke-width="2.0" stroke-linecap="butt"/>
<line x1="722.00" y1="895.10" x2="743.60" y2="895.10" stroke="#000" stroke-width="2.2" stroke-linecap="butt"/>
<circle cx="799.40" cy="818.50" r="4.9" fill="none" stroke="#686868" stroke-width="1.15"/>
<circle cx="794.10" cy="829.90" r="4.9" fill="none" stroke="#686868" stroke-width="1.15"/>
<circle cx="799.20" cy="835.00" r="4.9" fill="none" stroke="#686868" stroke-width="1.15"/>
<circle cx="792.80" cy="843.10" r="4.9" fill="none" stroke="#686868" stroke-width="1.15"/>
<circle cx="805.50" cy="843.90" r="4.9" fill="none" stroke="#686868" stroke-width="1.15"/>
<circle cx="799.60" cy="846.40" r="4.9" fill="none" stroke="#686868" stroke-width="1.15"/>
<line x1="799.60" y1="827.50" x2="799.60" y2="837.10" stroke="#000" stroke-width="2.0" stroke-linecap="butt"/>
<line x1="789.00" y1="827.50" x2="810.20" y2="827.50" stroke="#000" stroke-width="2.2" stroke-linecap="butt"/>
<circle cx="859.30" cy="834.60" r="4.9" fill="none" stroke="#686868" stroke-width="1.15"/>
<circle cx="866.90" cy="832.00" r="4.9" fill="none" stroke="#686868" stroke-width="1.15"/>
<circle cx="861.00" cy="843.00" r="4.9" fill="none" stroke="#686868" stroke-width="1.15"/>
<circle cx="871.60" cy="846.40" r="4.9" fill="none" stroke="#686868" stroke-width="1.15"/>
<circle cx="866.10" cy="849.00" r="4.9" fill="none" stroke="#686868" stroke-width="1.15"/>
<circle cx="866.50" cy="844.70" r="4.9" fill="none" stroke="#686868" stroke-width="1.15"/>
<line x1="865.90" y1="828.80" x2="865.90" y2="839.90" stroke="#000" stroke-width="2.0" stroke-linecap="butt"/>
<line x1="855.10" y1="828.80" x2="876.70" y2="828.80" stroke="#000" stroke-width="2.2" stroke-linecap="butt"/>
<line x1="666.60" y1="784.90" x2="799.10" y2="784.90" stroke="#000" stroke-width="2.6" stroke-linecap="butt"/>
<line x1="733.40" y1="743.00" x2="865.90" y2="743.00" stroke="#000" stroke-width="2.6" stroke-linecap="butt"/>
<line x1="1126.60" y1="707.20" x2="1126.60" y2="974.10" stroke="#000" stroke-width="2.6" stroke-linecap="butt"/>
<line x1="1115.60" y1="972.80" x2="1407.50" y2="972.80" stroke="#000" stroke-width="2.6" stroke-linecap="butt"/>
<line x1="1115.60" y1="972.80" x2="1126.60" y2="972.80" stroke="#000" stroke-width="2.6" stroke-linecap="butt"/>
<line x1="1115.60" y1="906.72" x2="1126.60" y2="906.72" stroke="#000" stroke-width="2.6" stroke-linecap="butt"/>
<line x1="1115.60" y1="840.65" x2="1126.60" y2="840.65" stroke="#000" stroke-width="2.6" stroke-linecap="butt"/>
<line x1="1115.60" y1="774.57" x2="1126.60" y2="774.57" stroke="#000" stroke-width="2.6" stroke-linecap="butt"/>
<line x1="1115.60" y1="708.50" x2="1126.60" y2="708.50" stroke="#000" stroke-width="2.6" stroke-linecap="butt"/>
<line x1="1169.50" y1="972.80" x2="1169.50" y2="984.40" stroke="#000" stroke-width="2.6" stroke-linecap="butt"/>
<rect x="1148.50" y="906.90" width="41.90" height="64.90" fill="#0000c0"/>
<line x1="1234.20" y1="972.80" x2="1234.20" y2="984.40" stroke="#000" stroke-width="2.6" stroke-linecap="butt"/>
<rect x="1213.00" y="912.30" width="42.20" height="59.50" fill="#8c8cfc"/>
<line x1="1298.20" y1="972.80" x2="1298.20" y2="984.40" stroke="#000" stroke-width="2.6" stroke-linecap="butt"/>
<rect x="1277.50" y="836.90" width="42.50" height="134.90" fill="#9e0000"/>
<line x1="1362.70" y1="972.80" x2="1362.70" y2="984.40" stroke="#000" stroke-width="2.6" stroke-linecap="butt"/>
<rect x="1342.30" y="861.10" width="42.50" height="110.70" fill="#fa9c9c"/>
<circle cx="1169.60" cy="900.70" r="4.9" fill="none" stroke="#686868" stroke-width="1.15"/>
<circle cx="1165.30" cy="902.40" r="4.9" fill="none" stroke="#686868" stroke-width="1.15"/>
<circle cx="1173.40" cy="903.20" r="4.9" fill="none" stroke="#686868" stroke-width="1.15"/>
<circle cx="1159.40" cy="910.80" r="4.9" fill="none" stroke="#686868" stroke-width="1.15"/>
<circle cx="1174.20" cy="911.70" r="4.9" fill="none" stroke="#686868" stroke-width="1.15"/>
<circle cx="1166.20" cy="908.70" r="4.9" fill="none" stroke="#686868" stroke-width="1.15"/>
<line x1="1169.35" y1="903.60" x2="1169.35" y2="907.40" stroke="#000" stroke-width="2.0" stroke-linecap="butt"/>
<line x1="1159.00" y1="903.60" x2="1179.70" y2="903.60" stroke="#000" stroke-width="2.2" stroke-linecap="butt"/>
<circle cx="1234.00" cy="906.20" r="4.9" fill="none" stroke="#686868" stroke-width="1.15"/>
<circle cx="1228.50" cy="910.00" r="4.9" fill="none" stroke="#686868" stroke-width="1.15"/>
<circle cx="1243.70" cy="909.20" r="4.9" fill="none" stroke="#686868" stroke-width="1.15"/>
<circle cx="1234.00" cy="913.00" r="4.9" fill="none" stroke="#686868" stroke-width="1.15"/>
<circle cx="1237.00" cy="907.90" r="4.9" fill="none" stroke="#686868" stroke-width="1.15"/>
<circle cx="1234.80" cy="903.20" r="4.9" fill="none" stroke="#686868" stroke-width="1.15"/>
<line x1="1234.50" y1="909.20" x2="1234.50" y2="912.80" stroke="#000" stroke-width="2.0" stroke-linecap="butt"/>
<line x1="1224.20" y1="909.20" x2="1244.80" y2="909.20" stroke="#000" stroke-width="2.2" stroke-linecap="butt"/>
<circle cx="1298.30" cy="828.10" r="4.9" fill="none" stroke="#686868" stroke-width="1.15"/>
<circle cx="1293.20" cy="836.20" r="4.9" fill="none" stroke="#686868" stroke-width="1.15"/>
<circle cx="1300.40" cy="836.60" r="4.9" fill="none" stroke="#686868" stroke-width="1.15"/>
<circle cx="1289.80" cy="841.30" r="4.9" fill="none" stroke="#686868" stroke-width="1.15"/>
<circle cx="1305.50" cy="841.70" r="4.9" fill="none" stroke="#686868" stroke-width="1.15"/>
<circle cx="1297.50" cy="837.90" r="4.9" fill="none" stroke="#686868" stroke-width="1.15"/>
<line x1="1298.50" y1="832.50" x2="1298.50" y2="837.40" stroke="#000" stroke-width="2.0" stroke-linecap="butt"/>
<line x1="1288.10" y1="832.50" x2="1308.90" y2="832.50" stroke="#000" stroke-width="2.2" stroke-linecap="butt"/>
<circle cx="1365.30" cy="854.80" r="4.9" fill="none" stroke="#686868" stroke-width="1.15"/>
<circle cx="1359.30" cy="859.10" r="4.9" fill="none" stroke="#686868" stroke-width="1.15"/>
<circle cx="1369.90" cy="859.10" r="4.9" fill="none" stroke="#686868" stroke-width="1.15"/>
<circle cx="1358.90" cy="862.50" r="4.9" fill="none" stroke="#686868" stroke-width="1.15"/>
<circle cx="1369.90" cy="862.90" r="4.9" fill="none" stroke="#686868" stroke-width="1.15"/>
<circle cx="1364.00" cy="864.20" r="4.9" fill="none" stroke="#686868" stroke-width="1.15"/>
<line x1="1363.35" y1="858.00" x2="1363.35" y2="861.60" stroke="#000" stroke-width="2.0" stroke-linecap="butt"/>
<line x1="1352.10" y1="858.00" x2="1374.60" y2="858.00" stroke="#000" stroke-width="2.2" stroke-linecap="butt"/>
<line x1="1234.20" y1="742.10" x2="1363.50" y2="742.10" stroke="#000" stroke-width="2.6" stroke-linecap="butt"/>
<line x1="1170.30" y1="781.70" x2="1298.80" y2="781.70" stroke="#000" stroke-width="2.6" stroke-linecap="butt"/>
<line x1="1299.20" y1="818.00" x2="1361.90" y2="818.00" stroke="#000" stroke-width="2.6" stroke-linecap="butt"/>
<line x1="1321.96" y1="794.55" x2="1321.96" y2="804.55" stroke="#000" stroke-width="3.002586206896547" stroke-linecap="round"/>
<line x1="1317.06" y1="796.71" x2="1326.85" y2="802.39" stroke="#000" stroke-width="3.1137931034482706" stroke-linecap="round"/>
<line x1="1317.06" y1="802.39" x2="1326.85" y2="796.71" stroke="#000" stroke-width="3.1137931034482706" stroke-linecap="round"/>
<line x1="1338.24" y1="794.55" x2="1338.24" y2="804.55" stroke="#000" stroke-width="3.002586206896547" stroke-linecap="round"/>
<line x1="1333.35" y1="796.71" x2="1343.14" y2="802.39" stroke="#000" stroke-width="3.1137931034482706" stroke-linecap="round"/>
<line x1="1333.35" y1="802.39" x2="1343.14" y2="796.71" stroke="#000" stroke-width="3.1137931034482706" stroke-linecap="round"/>
<line x1="1170.30" y1="890.00" x2="1234.00" y2="890.00" stroke="#000" stroke-width="2.6" stroke-linecap="butt"/>
<line x1="1201.45" y1="867.91" x2="1201.45" y2="876.99" stroke="#000" stroke-width="2.72327586206895" stroke-linecap="round"/>
<line x1="1197.01" y1="869.88" x2="1205.89" y2="875.02" stroke="#000" stroke-width="2.8241379310344663" stroke-linecap="round"/>
<line x1="1197.01" y1="875.02" x2="1205.89" y2="869.88" stroke="#000" stroke-width="2.8241379310344663" stroke-linecap="round"/>
<text transform="translate(53.84,433.66) scale(0.3194,0.3194)" font-family='"Liberation Serif", serif' font-weight="bold" font-size="100" xml:space="preserve">20</text>
<text transform="translate(53.84,373.88) scale(0.3194,0.3194)" font-family='"Liberation Serif", serif' font-weight="bold" font-size="100" xml:space="preserve">30</text>
<text transform="translate(53.84,314.10) scale(0.3194,0.3194)" font-family='"Liberation Serif", serif' font-weight="bold" font-size="100" xml:space="preserve">40</text>
<text transform="translate(53.84,254.32) scale(0.3194,0.3194)" font-family='"Liberation Serif", serif' font-weight="bold" font-size="100" xml:space="preserve">50</text>
<text transform="translate(53.84,194.54) scale(0.3194,0.3194)" font-family='"Liberation Serif", serif' font-weight="bold" font-size="100" xml:space="preserve">60</text>
<text transform="translate(87.41,461.36) scale(0.3194,0.3194)" font-family='"Liberation Serif", serif' font-weight="bold" font-size="100" xml:space="preserve">0</text>
<text transform="translate(142.98,462.00) scale(0.3242,0.3242)" font-family='"Liberation Serif", serif' font-weight="bold" font-size="100" xml:space="preserve">1</text>
<text transform="translate(199.63,461.68) scale(0.3242,0.3242)" font-family='"Liberation Serif", serif' font-weight="bold" font-size="100" xml:space="preserve">2</text>
<text transform="translate(255.77,461.36) scale(0.3194,0.3194)" font-family='"Liberation Serif", serif' font-weight="bold" font-size="100" xml:space="preserve">3</text>
<text transform="translate(312.01,462.00) scale(0.3292,0.3292)" font-family='"Liberation Serif", serif' font-weight="bold" font-size="100" xml:space="preserve">4</text>
<text transform="translate(368.14,461.68) scale(0.3242,0.3242)" font-family='"Liberation Serif", serif' font-weight="bold" font-size="100" xml:space="preserve">5</text>
<text transform="translate(117.69,501.01) scale(0.3071,0.2958)" font-family='"Liberation Serif", serif' font-weight="bold" font-size="100" xml:space="preserve">Time after 6-OHDA</text>
<text transform="translate(146.99,535.58) scale(0.3037,0.3011)" font-family='"Liberation Serif", serif' font-weight="bold" font-size="100" xml:space="preserve">injection (week)</text>
<text transform="translate(39.64,499.32) rotate(-90) scale(0.3650,0.3456)" font-family='"Liberation Serif", serif' font-weight="bold" font-size="100" xml:space="preserve">Contralateral touches (%)</text>
<text transform="translate(2.45,56.30) scale(0.7529,0.7773)" font-family='"Liberation Serif", serif' font-weight="bold" font-size="100" xml:space="preserve">A</text>
<text transform="translate(410.04,136.49) scale(0.2140,0.2060)" font-family='"Liberation Serif", serif' font-weight="normal" font-size="100" xml:space="preserve">C</text>
<text transform="translate(410.04,161.24) scale(0.2160,0.2060)" font-family='"Liberation Serif", serif' font-weight="normal" font-size="100" xml:space="preserve">CE</text>
<text transform="translate(411.01,187.20) scale(0.1950,0.2169)" font-family='"Liberation Serif", serif' font-weight="normal" font-size="100" xml:space="preserve">PD</text>
<text transform="translate(410.96,211.55) scale(0.2138,0.2123)" font-family='"Liberation Serif", serif' font-weight="normal" font-size="100" xml:space="preserve">PE</text>
<text transform="translate(396.32,302.70) rotate(90) scale(0.2000,0.2090)" font-family='"Liberation Serif", serif' font-weight="normal" font-size="100" xml:space="preserve">&amp;&amp;</text>
<text transform="translate(68.49,925.05) scale(0.3231,0.3231)" font-family='"Liberation Serif", serif' font-weight="bold" font-size="100" xml:space="preserve">4</text>
<text transform="translate(69.27,871.32) scale(0.3134,0.3134)" font-family='"Liberation Serif", serif' font-weight="bold" font-size="100" xml:space="preserve">6</text>
<text transform="translate(69.27,818.22) scale(0.3134,0.3134)" font-family='"Liberation Serif", serif' font-weight="bold" font-size="100" xml:space="preserve">8</text>
<text transform="translate(54.35,765.13) scale(0.3088,0.3088)" font-family='"Liberation Serif", serif' font-weight="bold" font-size="100" xml:space="preserve">10</text>
<text transform="translate(53.91,712.34) scale(0.3134,0.3134)" font-family='"Liberation Serif", serif' font-weight="bold" font-size="100" xml:space="preserve">12</text>
<text transform="translate(87.49,978.97) scale(0.3164,0.3164)" font-family='"Liberation Serif", serif' font-weight="bold" font-size="100" xml:space="preserve">0</text>
<text transform="translate(142.89,979.60) scale(0.3212,0.3212)" font-family='"Liberation Serif", serif' font-weight="bold" font-size="100" xml:space="preserve">1</text>
<text transform="translate(199.37,979.28) scale(0.3212,0.3212)" font-family='"Liberation Serif", serif' font-weight="bold" font-size="100" xml:space="preserve">2</text>
<text transform="translate(255.33,978.97) scale(0.3164,0.3164)" font-family='"Liberation Serif", serif' font-weight="bold" font-size="100" xml:space="preserve">3</text>
<text transform="translate(311.41,979.60) scale(0.3262,0.3262)" font-family='"Liberation Serif", serif' font-weight="bold" font-size="100" xml:space="preserve">4</text>
<text transform="translate(367.37,979.28) scale(0.3212,0.3212)" font-family='"Liberation Serif", serif' font-weight="bold" font-size="100" xml:space="preserve">5</text>
<text transform="translate(117.79,1018.61) scale(0.3075,0.2958)" font-family='"Liberation Serif", serif' font-weight="bold" font-size="100" xml:space="preserve">Time after 6-OHDA</text>
<text transform="translate(146.69,1053.18) scale(0.3034,0.3011)" font-family='"Liberation Serif", serif' font-weight="bold" font-size="100" xml:space="preserve">injection (week)</text>
<text transform="translate(40.34,875.23) rotate(-90) scale(0.3631,0.3600)" font-family='"Liberation Serif", serif' font-weight="bold" font-size="100" xml:space="preserve">Time (s)</text>
<text transform="translate(1.41,631.90) scale(0.7938,0.7738)" font-family='"Liberation Serif", serif' font-weight="bold" font-size="100" xml:space="preserve">D</text>
<text transform="translate(433.84,638.19) scale(0.2140,0.2060)" font-family='"Liberation Serif", serif' font-weight="normal" font-size="100" xml:space="preserve">C</text>
<text transform="translate(433.84,662.94) scale(0.2160,0.2060)" font-family='"Liberation Serif", serif' font-weight="normal" font-size="100" xml:space="preserve">CE</text>
<text transform="translate(434.81,688.90) scale(0.1950,0.2169)" font-family='"Liberation Serif", serif' font-weight="normal" font-size="100" xml:space="preserve">PD</text>
<text transform="translate(434.76,713.25) scale(0.2138,0.2123)" font-family='"Liberation Serif", serif' font-weight="normal" font-size="100" xml:space="preserve">PE</text>
<text transform="translate(395.60,754.27) rotate(90) scale(0.2067,0.2000)" font-family='"Liberation Serif", serif' font-weight="normal" font-size="100" xml:space="preserve">&amp;&amp;</text>
<text transform="translate(389.00,889.00) rotate(90) scale(0.2022,0.2062)" font-family='"Liberation Serif", serif' font-weight="normal" font-size="100" xml:space="preserve">#</text>
<text transform="translate(594.78,448.52) scale(0.2896,0.2896)" font-family='"Liberation Serif", serif' font-weight="bold" font-size="100" xml:space="preserve">0</text>
<text transform="translate(580.30,395.59) scale(0.2896,0.2896)" font-family='"Liberation Serif", serif' font-weight="bold" font-size="100" xml:space="preserve">20</text>
<text transform="translate(580.30,342.66) scale(0.2896,0.2896)" font-family='"Liberation Serif", serif' font-weight="bold" font-size="100" xml:space="preserve">40</text>
<text transform="translate(580.30,289.73) scale(0.2896,0.2896)" font-family='"Liberation Serif", serif' font-weight="bold" font-size="100" xml:space="preserve">60</text>
<text transform="translate(580.30,236.80) scale(0.2896,0.2896)" font-family='"Liberation Serif", serif' font-weight="bold" font-size="100" xml:space="preserve">80</text>
<text transform="translate(566.45,183.88) scale(0.2853,0.2853)" font-family='"Liberation Serif", serif' font-weight="bold" font-size="100" xml:space="preserve">100</text>
<text transform="translate(654.50,479.30) scale(0.3200,0.3030)" font-family='"Liberation Serif", serif' font-weight="bold" font-size="100" xml:space="preserve">C</text>
<text transform="translate(709.33,479.30) scale(0.2946,0.3030)" font-family='"Liberation Serif", serif' font-weight="bold" font-size="100" xml:space="preserve">CE</text>
<text transform="translate(775.02,479.60) scale(0.2889,0.3077)" font-family='"Liberation Serif", serif' font-weight="bold" font-size="100" xml:space="preserve">PD</text>
<text transform="translate(839.73,479.60) scale(0.2843,0.3077)" font-family='"Liberation Serif", serif' font-weight="bold" font-size="100" xml:space="preserve">PE</text>
<text transform="translate(706.75,259.90) scale(0.2247,0.2277)" font-family='"Liberation Serif", serif' font-weight="normal" font-size="100" xml:space="preserve" stroke="#000" stroke-width="4" stroke-linejoin="round">###</text>
<text transform="translate(770.76,212.23) scale(0.2093,0.2358)" font-family='"Liberation Serif", serif' font-weight="normal" font-size="100" xml:space="preserve" stroke="#000" stroke-width="2" stroke-linejoin="round">&amp;&amp;&amp;</text>
<text transform="translate(547.94,508.31) rotate(-90) scale(0.3628,0.3600)" font-family='"Liberation Serif", serif' font-weight="bold" font-size="100" xml:space="preserve">Contralateral touches  (%)</text>
<text transform="translate(509.69,56.50) scale(0.7532,0.7785)" font-family='"Liberation Serif", serif' font-weight="bold" font-size="100" xml:space="preserve">B</text>
<text transform="translate(1096.89,454.93) scale(0.3328,0.3328)" font-family='"Liberation Serif", serif' font-weight="bold" font-size="100" xml:space="preserve">0</text>
<text transform="translate(1080.25,402.29) scale(0.3328,0.3328)" font-family='"Liberation Serif", serif' font-weight="bold" font-size="100" xml:space="preserve">20</text>
<text transform="translate(1080.25,349.65) scale(0.3328,0.3328)" font-family='"Liberation Serif", serif' font-weight="bold" font-size="100" xml:space="preserve">40</text>
<text transform="translate(1080.25,297.01) scale(0.3328,0.3328)" font-family='"Liberation Serif", serif' font-weight="bold" font-size="100" xml:space="preserve">60</text>
<text transform="translate(1080.25,244.37) scale(0.3328,0.3328)" font-family='"Liberation Serif", serif' font-weight="bold" font-size="100" xml:space="preserve">80</text>
<text transform="translate(1064.32,191.74) scale(0.3279,0.3279)" font-family='"Liberation Serif", serif' font-weight="bold" font-size="100" xml:space="preserve">100</text>
<text transform="translate(1156.33,487.06) scale(0.3350,0.3364)" font-family='"Liberation Serif", serif' font-weight="bold" font-size="100" xml:space="preserve">C</text>
<text transform="translate(1207.94,487.06) scale(0.3310,0.3364)" font-family='"Liberation Serif", serif' font-weight="bold" font-size="100" xml:space="preserve">CE</text>
<text transform="translate(1272.55,487.40) scale(0.3230,0.3415)" font-family='"Liberation Serif", serif' font-weight="bold" font-size="100" xml:space="preserve">PD</text>
<text transform="translate(1335.84,487.40) scale(0.3281,0.3415)" font-family='"Liberation Serif", serif' font-weight="bold" font-size="100" xml:space="preserve">PE</text>
<text transform="translate(1269.26,196.52) scale(0.2093,0.2403)" font-family='"Liberation Serif", serif' font-weight="normal" font-size="100" xml:space="preserve" stroke="#000" stroke-width="2" stroke-linejoin="round">&amp;&amp;&amp;</text>
<text transform="translate(1215.67,238.30) scale(0.2164,0.2354)" font-family='"Liberation Serif", serif' font-weight="normal" font-size="100" xml:space="preserve" stroke="#000" stroke-width="4" stroke-linejoin="round">###</text>
<text transform="translate(1047.65,506.31) rotate(-90) scale(0.3614,0.3500)" font-family='"Liberation Serif", serif' font-weight="bold" font-size="100" xml:space="preserve">Contralateral touches (%)</text>
<text transform="translate(1002.90,56.40) scale(0.8000,0.7985)" font-family='"Liberation Serif", serif' font-weight="bold" font-size="100" xml:space="preserve">C</text>
<text transform="translate(592.32,986.08) scale(0.3104,0.3104)" font-family='"Liberation Serif", serif' font-weight="bold" font-size="100" xml:space="preserve">0</text>
<text transform="translate(592.10,917.91) scale(0.3152,0.3152)" font-family='"Liberation Serif", serif' font-weight="bold" font-size="100" xml:space="preserve">5</text>
<text transform="translate(577.24,849.14) scale(0.3059,0.3059)" font-family='"Liberation Serif", serif' font-weight="bold" font-size="100" xml:space="preserve">10</text>
<text transform="translate(576.80,780.96) scale(0.3104,0.3104)" font-family='"Liberation Serif", serif' font-weight="bold" font-size="100" xml:space="preserve">15</text>
<text transform="translate(576.80,712.18) scale(0.3104,0.3104)" font-family='"Liberation Serif", serif' font-weight="bold" font-size="100" xml:space="preserve">20</text>
<text transform="translate(654.84,1017.58) scale(0.3317,0.3197)" font-family='"Liberation Serif", serif' font-weight="bold" font-size="100" xml:space="preserve">C</text>
<text transform="translate(711.65,1017.58) scale(0.3109,0.3197)" font-family='"Liberation Serif", serif' font-weight="bold" font-size="100" xml:space="preserve">CE</text>
<text transform="translate(779.79,1017.90) scale(0.3048,0.3246)" font-family='"Liberation Serif", serif' font-weight="bold" font-size="100" xml:space="preserve">PD</text>
<text transform="translate(846.99,1017.90) scale(0.3058,0.3246)" font-family='"Liberation Serif", serif' font-weight="bold" font-size="100" xml:space="preserve">PE</text>
<text transform="translate(713.79,773.70) scale(0.2541,0.2662)" font-family='"Liberation Serif", serif' font-weight="normal" font-size="100" xml:space="preserve" stroke="#000" stroke-width="4" stroke-linejoin="round">###</text>
<text transform="translate(773.82,729.23) scale(0.2207,0.2373)" font-family='"Liberation Serif", serif' font-weight="normal" font-size="100" xml:space="preserve" stroke="#000" stroke-width="2" stroke-linejoin="round">&amp;&amp;&amp;</text>
<text transform="translate(559.31,897.24) rotate(-90) scale(0.3703,0.3756)" font-family='"Liberation Serif", serif' font-weight="bold" font-size="100" xml:space="preserve">Time (s)</text>
<text transform="translate(509.67,630.80) scale(0.7650,0.7785)" font-family='"Liberation Serif", serif' font-weight="bold" font-size="100" xml:space="preserve">E</text>
<text transform="translate(1096.93,984.65) scale(0.3254,0.3254)" font-family='"Liberation Serif", serif' font-weight="bold" font-size="100" xml:space="preserve">0</text>
<text transform="translate(1096.71,918.89) scale(0.3303,0.3303)" font-family='"Liberation Serif", serif' font-weight="bold" font-size="100" xml:space="preserve">5</text>
<text transform="translate(1081.12,852.51) scale(0.3206,0.3206)" font-family='"Liberation Serif", serif' font-weight="bold" font-size="100" xml:space="preserve">10</text>
<text transform="translate(1080.66,786.75) scale(0.3254,0.3254)" font-family='"Liberation Serif", serif' font-weight="bold" font-size="100" xml:space="preserve">15</text>
<text transform="translate(1080.66,720.35) scale(0.3254,0.3254)" font-family='"Liberation Serif", serif' font-weight="bold" font-size="100" xml:space="preserve">20</text>
<text transform="translate(1156.48,1017.96) scale(0.3633,0.3439)" font-family='"Liberation Serif", serif' font-weight="bold" font-size="100" xml:space="preserve">C</text>
<text transform="translate(1209.98,1017.96) scale(0.3442,0.3439)" font-family='"Liberation Serif", serif' font-weight="bold" font-size="100" xml:space="preserve">CE</text>
<text transform="translate(1276.73,1018.30) scale(0.3357,0.3492)" font-family='"Liberation Serif", serif' font-weight="bold" font-size="100" xml:space="preserve">PD</text>
<text transform="translate(1341.51,1018.30) scale(0.3430,0.3492)" font-family='"Liberation Serif", serif' font-weight="bold" font-size="100" xml:space="preserve">PE</text>
<text transform="translate(1273.54,729.22) scale(0.2145,0.2388)" font-family='"Liberation Serif", serif' font-weight="normal" font-size="100" xml:space="preserve" stroke="#000" stroke-width="2" stroke-linejoin="round">&amp;&amp;&amp;</text>
<text transform="translate(1217.15,768.60) scale(0.2240,0.2308)" font-family='"Liberation Serif", serif' font-weight="normal" font-size="100" xml:space="preserve" stroke="#000" stroke-width="4" stroke-linejoin="round">###</text>
<text transform="translate(1061.79,896.59) rotate(-90) scale(0.3930,0.3911)" font-family='"Liberation Serif", serif' font-weight="bold" font-size="100" xml:space="preserve">Time (s)</text>
<text transform="translate(1004.63,630.80) scale(0.7870,0.7785)" font-family='"Liberation Serif", serif' font-weight="bold" font-size="100" xml:space="preserve">F</text>
</svg></body></html>
